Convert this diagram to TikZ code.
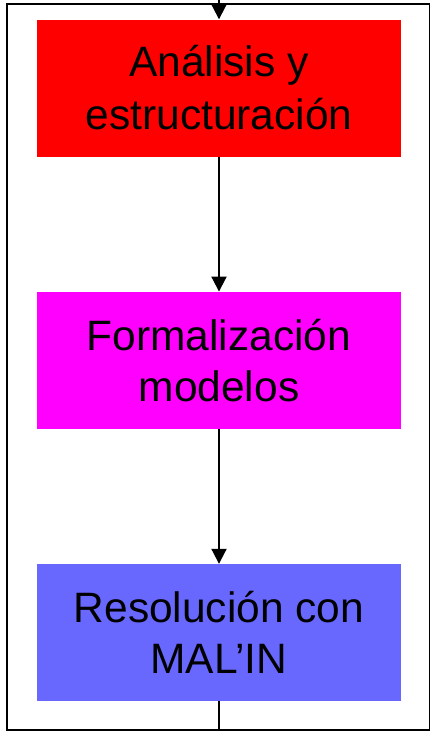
\documentclass[tikz,border=0pt]{standalone}
\usepackage{fontspec}
\setmainfont{Liberation Sans}
\usetikzlibrary{arrows.meta}
\definecolor{boxred}{HTML}{FF0000}
\definecolor{boxmag}{HTML}{FF00FF}
\definecolor{boxblue}{HTML}{6868FF}
\tikzset{
  stagebox/.style={draw=none, inner sep=0pt, minimum width=364pt, minimum height=137pt,
    align=center, text=black, font=\fontsize{42.5}{51}\selectfont},
  flowline/.style={line width=2pt, -{Triangle[width=15pt,length=15pt]}},
  plainline/.style={line width=2pt},
  frameline/.style={line width=1.4pt}
}
\begin{document}
\begin{tikzpicture}[x=1pt,y=-1pt]
\useasboundingbox (0,0) rectangle (430,731);
\draw[frameline] (7,4) rectangle (430,730);
\node[stagebox, fill=boxred, font=\fontsize{42.5}{53}\selectfont] (a) at (219,88) {Análisis y\\estructuración};
\node[stagebox, fill=boxmag] (b) at (219,360.25) {Formalización\\modelos};
\node[stagebox, fill=boxblue] (c) at (219,632.5) {Resolución con\\MAL’IN};
\coordinate (top) at (219,0);
\coordinate (bot) at (219,730);
\draw[flowline] (top) -- (a.north);
\draw[flowline] (a.south) -- (b.north);
\draw[flowline] (b.south) -- (c.north);
\draw[plainline] (c.south) -- (bot);
\end{tikzpicture}
\end{document}
